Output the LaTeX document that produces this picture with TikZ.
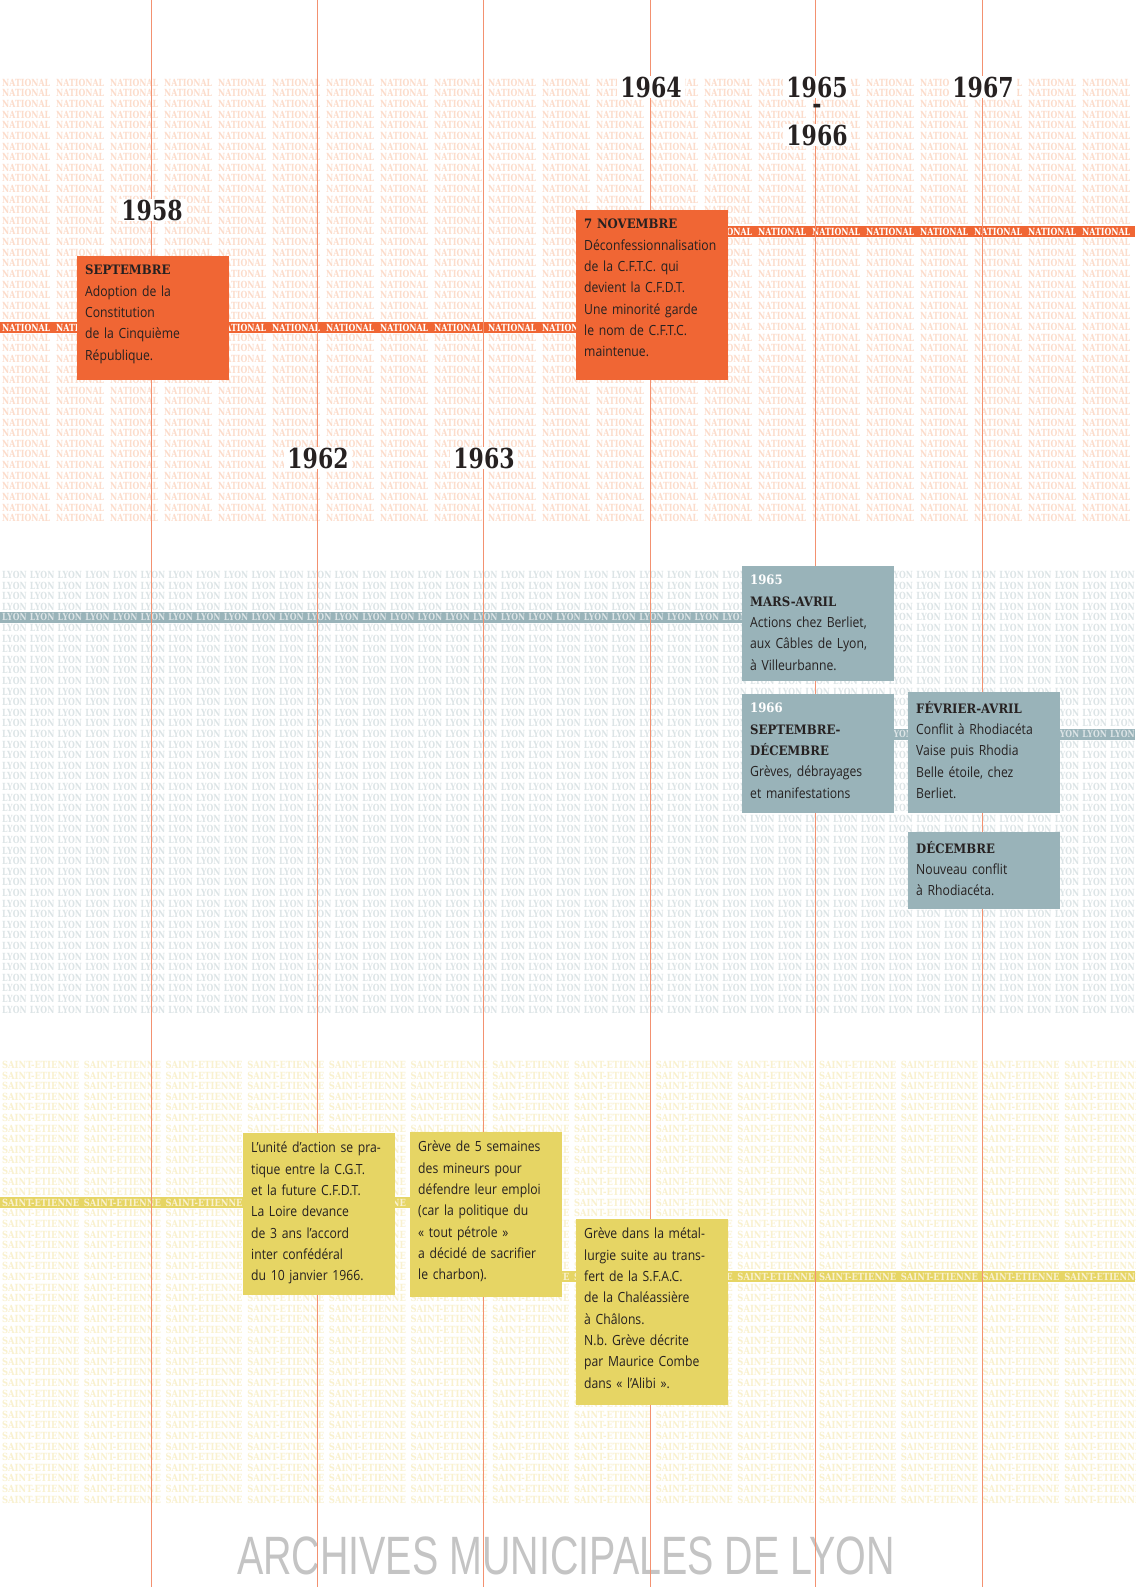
\documentclass[tikz,border=0pt]{standalone}
\usepackage{fontspec}
\usepackage{graphicx}
\usepackage{tikz}
\usetikzlibrary{positioning,calc}
\newfontfamily\bodyfont{Open Sans}[FakeStretch=0.87]
\newfontfamily\slabfont{DejaVu Serif}[FakeStretch=0.8]
\newfontfamily\headfont{DejaVu Serif}[FakeStretch=0.9]
\newfontfamily\footfont{Liberation Sans}[FakeStretch=0.73]
\frenchspacing
\definecolor{NatOrange}{RGB}{240,102,52}
\definecolor{NatPat}{RGB}{252,220,203}
\definecolor{LyonBlue}{RGB}{153,179,185}
\definecolor{LyonPat}{RGB}{220,228,230}
\definecolor{SteYellow}{RGB}{230,213,100}
\definecolor{StePat}{RGB}{249,241,207}
\definecolor{GridLine}{RGB}{243,145,112}
\definecolor{FootGray}{RGB}{196,196,196}
\definecolor{Ink}{RGB}{38,33,33}
% word, pitch, count, word width
\newcommand\patrow[4]{\foreach \k in {1,...,#3}{\makebox[#2][l]{\resizebox{#4}{7.3pt}{#1}}}}
\newcommand\hd[1]{{\headfont\bfseries\fontsize{13}{21.3}\selectfont #1}}
\tikzset{
  pat/.style={anchor=west,inner sep=0,font=\slabfont\bfseries\fontsize{10}{10}\selectfont},
  box/.style={anchor=north west,minimum width=152pt,inner sep=0,outer sep=0},
  nbox/.style={box,fill=NatOrange},
  lbox/.style={box,fill=LyonBlue},
  sbox/.style={box,fill=SteYellow},
  txt/.style={anchor=north west,inner sep=0,align=left,text width=142pt,text=Ink,
    font=\bodyfont\fontsize{14}{21.3}\selectfont},
  year/.style={fill=white,inner xsep=3pt,inner ysep=1pt,text=Ink,
    font=\slabfont\bfseries\fontsize{27.5}{27.5}\selectfont},
  gridline/.style={draw=GridLine,line width=0.9pt},
}

\begin{document}
\begin{tikzpicture}[x=1pt,y=-1pt]
\useasboundingbox[fill=white] (0,0) rectangle (1135,1587);

% background word patterns
\foreach \r in {0,...,41}{
  \node[pat,text=NatPat] (natrow\r) at (-52,82.7+10.62*\r) {\patrow{NATIONAL}{54pt}{23}{48pt}};
  \node[pat,text=LyonPat] (lyonrow\r) at (-25.7,575+10.6*\r) {\patrow{LYON}{27.7pt}{43}{24.5pt}};
  \node[pat,text=StePat] (sterow\r) at (-79.7,1065+10.6*\r) {\patrow{SAINT-ETIENNE}{81.7pt}{16}{77pt}};
}

% strips
\begin{scope}
  \clip (0,322) rectangle (580,333);
  \fill[NatOrange] (0,322) rectangle (580,333);
  \node[pat,text=white] (natstripA) at (-52,327.5) {\patrow{NATIONAL}{54pt}{23}{48pt}};
\end{scope}
\begin{scope}
  \clip (650,226) rectangle (1135,237);
  \fill[NatOrange] (650,226) rectangle (1135,237);
  \node[pat,text=white] (natstripB) at (-52,231.5) {\patrow{NATIONAL}{54pt}{23}{48pt}};
\end{scope}
\begin{scope}
  \clip (0,612) rectangle (800,623);
  \fill[LyonBlue] (0,612) rectangle (800,623);
  \node[pat,text=LyonPat] (lyonstripA) at (-25.7,617.4) {\patrow{LYON}{27.7pt}{43}{24.5pt}};
\end{scope}
\begin{scope}
  \clip (800,729) rectangle (1135,740);
  \fill[LyonBlue] (800,729) rectangle (1135,740);
  \node[pat,text=LyonPat] (lyonstripB) at (-25.7,734) {\patrow{LYON}{27.7pt}{43}{24.5pt}};
\end{scope}
\begin{scope}
  \clip (0,1197) rectangle (500,1208);
  \fill[SteYellow] (0,1197) rectangle (500,1208);
  \node[pat,text=StePat] (stestripA) at (-79.7,1202.8) {\patrow{SAINT-ETIENNE}{81.7pt}{16}{77pt}};
\end{scope}
\begin{scope}
  \clip (500,1271) rectangle (1135,1282);
  \fill[SteYellow] (500,1271) rectangle (1135,1282);
  \node[pat,text=StePat] (stestripB) at (-79.7,1277) {\patrow{SAINT-ETIENNE}{81.7pt}{16}{77pt}};
\end{scope}

\node[text=FootGray,font=\footfont\fontsize{54}{54}\selectfont] (archives) at (566,1556) {ARCHIVES MUNICIPALES DE LYON};

% year lines
\foreach \x in {151,317,483,650,815,982}
  \draw[gridline] (\x,0) -- (\x,1587);

% national
\node[nbox,minimum height=124pt] (sept) at (77,256) {};
\node[txt] (septtxt) at ([shift={(8,9)}]sept.north west)
  {\hd{SEPTEMBRE}\\Adoption de la\\Constitution\\de la Cinquième\\République.};
\node[nbox,minimum height=170pt] (nov) at (576,210) {};
\node[txt] (novtxt) at ([shift={(8,9)}]nov.north west)
  {\hd{7 NOVEMBRE}\\Déconfessionnalisation\\de la C.F.T.C. qui\\devient la C.F.D.T.\\Une minorité garde\\le nom de C.F.T.C.\\maintenue.};

% lyon
\node[lbox,minimum height=115pt] (lyon65) at (742,566) {};
\node[txt] (lyon65txt) at ([shift={(8,9)}]lyon65.north west)
  {\hd{\textcolor{white}{1965}}\\\hd{MARS-AVRIL}\\Actions chez Berliet,\\aux Câbles de Lyon,\\à Villeurbanne.};
\node[lbox,minimum height=119pt] (lyon66) at (742,694) {};
\node[txt] (lyon66txt) at ([shift={(8,9)}]lyon66.north west)
  {\hd{\textcolor{white}{1966}}\\\hd{SEPTEMBRE-}\\\hd{DÉCEMBRE}\\Grèves, débrayages\\et manifestations};
\node[lbox,minimum height=121pt] (fev) at (908,692) {};
\node[txt] (fevtxt) at ([shift={(8,9)}]fev.north west)
  {\hd{FÉVRIER-AVRIL}\\Conflit à Rhodiacéta\\Vaise puis Rhodia\\Belle étoile, chez\\Berliet.};
\node[lbox,minimum height=77pt] (dec) at (908,832) {};
\node[txt] (dectxt) at ([shift={(8,9)}]dec.north west)
  {\hd{DÉCEMBRE}\\Nouveau conflit\\à Rhodiacéta.};

% saint-etienne
\node[sbox,minimum height=162pt] (unite) at (243,1133) {};
\node[txt] (unitetxt) at ([shift={(8,9)}]unite.north west)
  {L’unité d’action se pra-\\tique entre la C.G.T.\\et la future C.F.D.T.\\La Loire devance\\de 3 ans l’accord\\inter confédéral\\du 10 janvier 1966.};
\node[sbox,minimum height=165pt] (mineurs) at (410,1132) {};
\node[txt] (mineurstxt) at ([shift={(8,9)}]mineurs.north west)
  {Grève de 5 semaines\\des mineurs pour\\défendre leur emploi\\(car la politique du\\« tout pétrole »\\a décidé de sacrifier\\le charbon).};
\node[sbox,minimum height=186pt] (metal) at (576,1219) {};
\node[txt] (metaltxt) at ([shift={(8,9)}]metal.north west)
  {Grève dans la métal-\\lurgie suite au trans-\\fert de la S.F.A.C.\\de la Chaléassière\\à Châlons.\\N.b. Grève décrite\\par Maurice Combe\\dans « l’Alibi ».};

% years
\node[year] (y1958) at (152,210) {1958};
\node[year] (y1962) at (318,458) {1962};
\node[year] (y1963) at (484,458) {1963};
\node[year] (y1964) at (651,87) {1964};
\node[year] (y1965) at (817,87) {1965};
\node[year,fill=none] (ydash) at (817,109) {-};
\node[year] (y1966) at (817,135) {1966};
\node[year] (y1967) at (983,87) {1967};
\end{tikzpicture}
\end{document}
